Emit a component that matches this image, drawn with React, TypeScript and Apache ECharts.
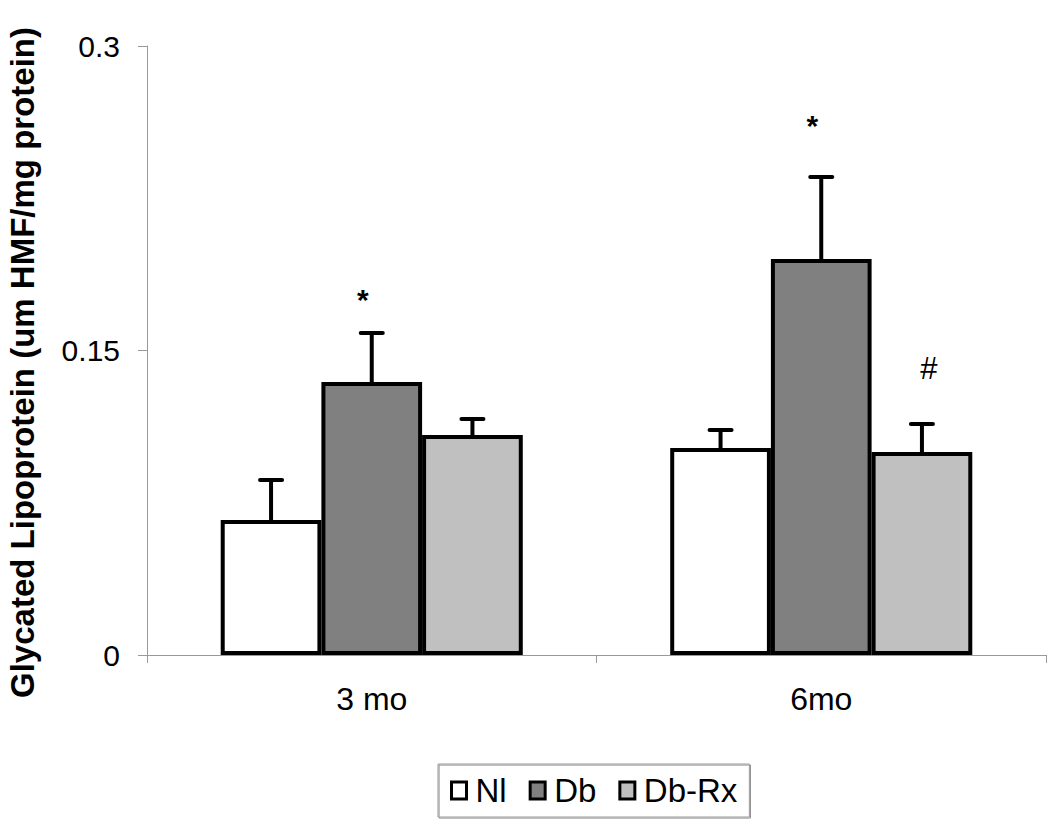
import React, { useEffect, useRef } from "react";
import * as echarts from "echarts";

const categories = ["3 mo", "6mo"];
const seriesNames = ["Nl", "Db", "Db-Rx"];
const seriesColors = ["#ffffff", "#808080", "#c0c0c0"];
const nlMean = [0.0665, 0.102];
const dbMean = [0.1345, 0.1951];
const dbRxMean = [0.1084, 0.1];
const nlUpper = [0.0862, 0.1108];
const dbUpper = [0.1586, 0.2355];
const dbRxUpper = [0.1163, 0.1138];
const yTicks = [0, 0.15, 0.3];
// annotations: [categoryIndex, seriesIndex, yValue, text]
const annotations: [number, number, number, string][] = [
  [0, 1, 0.1749, "*"],
  [1, 1, 0.2606, "*"],
  [1, 2, 0.1413, "#"],
];

const FONT = "'Liberation Sans', Arial, sans-serif";
const BAR_FRAC = 0.224;

export default function App() {
  const ref = useRef<HTMLDivElement>(null);
  useEffect(() => {
    if (!ref.current) return;
    const chart = echarts.init(ref.current, undefined, { renderer: "svg" });
    const means = [nlMean, dbMean, dbRxMean];
    const uppers = [nlUpper, dbUpper, dbRxUpper];

    const barSeries = seriesNames.map((name, k) => ({
      type: "bar",
      name,
      data: means[k],
      barWidth: BAR_FRAC * 100 + "%",
      barGap: "0%",
      itemStyle: { color: seriesColors[k], borderColor: "#000", borderWidth: 4 },
      z: 2,
    }));

    const errSeries = seriesNames.map((name, k) => ({
      type: "custom",
      name: name + "-err",
      z: 3,
      silent: true,
      data: categories.map((_, i) => [i, means[k][i], uppers[k][i]]),
      renderItem: (params: any, api: any) => {
        const cat = api.value(0);
        const bw = api.size([1, 0])[0];
        const barW = bw * BAR_FRAC;
        const x = api.coord([cat, 0])[0] + (k - 1) * barW;
        const yTop = api.coord([cat, api.value(1)])[1];
        const yCap = api.coord([cat, api.value(2)])[1];
        const st = { stroke: "#000", lineWidth: 4, lineCap: "round" };
        return {
          type: "group",
          children: [
            { type: "line", shape: { x1: x, y1: yTop, x2: x, y2: yCap }, style: st },
            { type: "line", shape: { x1: x - 11, y1: yCap, x2: x + 11, y2: yCap }, style: st },
          ],
        };
      },
    }));

    const annSeries = {
      type: "custom",
      name: "ann",
      z: 4,
      silent: true,
      data: annotations.map((a) => [a[0], a[2], a[1], a[3]]),
      renderItem: (params: any, api: any) => {
        const a = annotations[params.dataIndex];
        const cat = a[0];
        const k = a[1];
        const bw = api.size([1, 0])[0];
        const barW = bw * BAR_FRAC;
        const x = api.coord([cat, 0])[0] + (k - 1) * barW;
        const y = api.coord([cat, a[2]])[1];
        const isStar = a[3] === "*";
        return {
          type: "text",
          x: x + (isStar ? -9 : 7),
          y,
          style: {
            text: a[3],
            fill: "#000",
            font: (isStar ? "bold 30px " : "normal 31px ") + FONT,
            align: "center",
            verticalAlign: "middle",
          },
        };
      },
    };

    chart.setOption({
      animation: false,
      backgroundColor: "#ffffff",
      textStyle: { fontFamily: FONT },
      grid: {
        left: 147,
        right: 4,
        top: 46,
        bottom: 166,
        containLabel: false,
        outerBoundsMode: "none",
      },
      legend: {
        data: seriesNames,
        bottom: 4,
        left: 438,
        icon: "rect",
        itemWidth: 15,
        itemHeight: 17,
        itemGap: 22,
        padding: [10, 12, 10, 12],
        borderColor: "#999",
        borderWidth: 1,
        borderRadius: 0,
        shadowColor: "rgba(0,0,0,0.5)",
        shadowOffsetX: 1,
        shadowOffsetY: 1,
        itemStyle: { borderColor: "#000", borderWidth: 3 },
        textStyle: {
          fontSize: 33,
          color: "#000",
          fontFamily: FONT,
          padding: [0, 0, 0, 4],
        },
      },
      xAxis: {
        type: "category",
        data: categories,
        axisLine: { lineStyle: { color: "#999", width: 1 } },
        axisTick: { show: true, length: 8, lineStyle: { color: "#999" } },
        axisLabel: { fontSize: 32, color: "#000", margin: 28, fontFamily: FONT },
      },
      yAxis: {
        type: "value",
        min: yTicks[0],
        max: yTicks[yTicks.length - 1],
        interval: yTicks[1] - yTicks[0],
        name: "Glycated Lipoprotein (um HMF/mg protein)",
        nameLocation: "middle",
        nameGap: 108,
        nameTextStyle: {
          fontSize: 33,
          fontWeight: "bold",
          color: "#000",
          fontFamily: FONT,
          padding: [0, 24, 0, 0],
        },
        axisLine: { show: true, lineStyle: { color: "#999", width: 1 } },
        axisTick: { show: true, length: 9, lineStyle: { color: "#999" } },
        axisLabel: { fontSize: 30, color: "#000", margin: 27, fontFamily: FONT },
        splitLine: { show: false },
      },
      series: [...barSeries, ...errSeries, annSeries],
    });
    return () => chart.dispose();
  }, []);
  return (
    <div
      ref={ref}
      style={{ position: "absolute", left: 0, top: 0, width: 1050, height: 821 }}
    />
  );
}
